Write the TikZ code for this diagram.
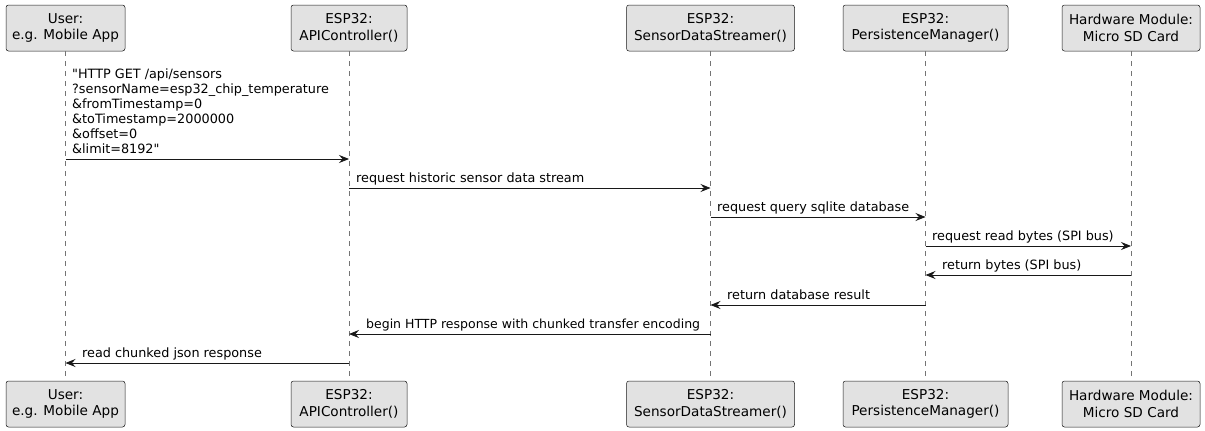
\documentclass[tikz,border=0pt]{standalone}
\usepackage{fontspec}
\setmainfont{DejaVu Sans}[Ligatures=TeXOff]
\usetikzlibrary{arrows.meta}
\definecolor{cajagris}{HTML}{E2E2E2}
\definecolor{borde}{HTML}{181818}
\begin{document}
\begin{tikzpicture}[x=1pt,y=-1pt,
    participante/.style={draw=borde, fill=cajagris, rounded corners=2.5pt, line width=0.5pt,
        align=center, inner sep=0pt, minimum height=46pt, font=\fontsize{13.6}{16.5}\selectfont},
    vida/.style={draw=borde!60, dashed, dash pattern=on 5pt off 5pt, line width=0.5pt},
    msj/.style={draw=borde, line width=0.9pt, -{Stealth[length=10pt,width=8pt,inset=3.5pt]}},
    etiqueta/.style={font=\fontsize{12.8}{15}\selectfont, inner sep=0pt, align=left}]
  \useasboundingbox (0,0) rectangle (1205,431);
  %participantes arriba
  \node[participante, minimum width=119pt] (user) at (65.5,28) {User:\\e.g. Mobile App};
  \node[participante, minimum width=116pt] (api) at (349,28) {ESP32:\\APIController()};
  \node[participante, minimum width=168pt] (stream) at (710.5,28) {ESP32:\\SensorDataStreamer()};
  \node[participante, minimum width=165pt] (persist) at (925.5,28) {ESP32:\\PersistenceManager()};
  \node[participante, minimum width=138pt] (sdcard) at (1131,28) {Hardware Module:\\Micro SD Card};
  %participantes abajo
  \node[participante, minimum width=119pt] (userB) at (65.5,404) {User:\\e.g. Mobile App};
  \node[participante, minimum width=116pt] (apiB) at (349,404) {ESP32:\\APIController()};
  \node[participante, minimum width=168pt] (streamB) at (710.5,404) {ESP32:\\SensorDataStreamer()};
  \node[participante, minimum width=165pt] (persistB) at (925.5,404) {ESP32:\\PersistenceManager()};
  \node[participante, minimum width=138pt] (sdcardB) at (1131,404) {Hardware Module:\\Micro SD Card};
  %lineas de vida
  \draw[vida] (user) -- (userB);
  \draw[vida] (api) -- (apiB);
  \draw[vida] (stream) -- (streamB);
  \draw[vida] (persist) -- (persistB);
  \draw[vida] (sdcard) -- (sdcardB);
  %filas de mensajes
  \coordinate (f1) at (0,159);
  \coordinate (f2) at (0,188);
  \coordinate (f3) at (0,217);
  \coordinate (f4) at (0,246);
  \coordinate (f5) at (0,275);
  \coordinate (f6) at (0,305);
  \coordinate (f7) at (0,334);
  \coordinate (f8) at (0,363);
  %mensajes
  \draw[msj] (user |- f1) -- (api |- f1);
  \draw[msj] (api |- f2) -- (stream |- f2);
  \draw[msj] (stream |- f3) -- (persist |- f3);
  \draw[msj] (persist |- f4) -- (sdcard |- f4);
  \draw[msj] (sdcard |- f5) -- (persist |- f5);
  \draw[msj] (persist |- f6) -- (stream |- f6);
  \draw[msj] (stream |- f7) -- (api |- f7);
  \draw[msj] (api |- f8) -- (user |- f8);
  %textos
  \node[etiqueta, anchor=base west] (t1) at (72,153.5) {"HTTP GET /api/sensors\\?sensorName=esp32\_chip\_temperature\\\&fromTimestamp=0\\\&toTimestamp=2000000\\\&offset=0\\\&limit=8192"};
  \node[etiqueta, anchor=base west] (t2) at (356,182.5) {request historic sensor data stream};
  \node[etiqueta, anchor=base west] (t3) at (717,211.5) {request query sqlite database};
  \node[etiqueta, anchor=base west] (t4) at (932,240.5) {request read bytes (SPI bus)};
  \node[etiqueta, anchor=base west] (t5) at (942,269.5) {return bytes (SPI bus)};
  \node[etiqueta, anchor=base west] (t6) at (727,299.5) {return database result};
  \node[etiqueta, anchor=base west, font=\fontsize{12.5}{15}\selectfont] (t7) at (366,328.5) {begin HTTP response with chunked transfer encoding};
  \node[etiqueta, anchor=base west] (t8) at (82,357.5) {read chunked json response};
\end{tikzpicture}
\end{document}
